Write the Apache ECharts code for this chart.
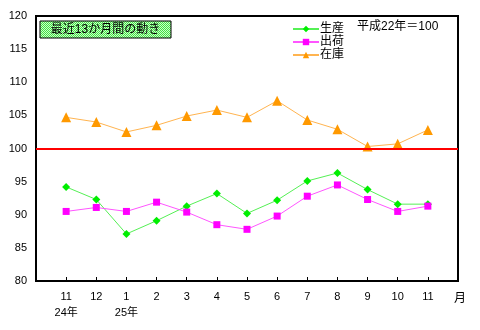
<!DOCTYPE html>
<html>
<head>
<meta charset="utf-8">
<script src="https://cdn.jsdelivr.net/npm/echarts@6/dist/echarts.min.js"></script>
<style>
  html, body { margin: 0; padding: 0; background: #fff; }
  #chart { width: 480px; height: 330px; }
</style>
</head>
<body>
<div id="chart"></div>
<script>
// Month labels (second line marks the year)
const months = ['11\n24年', '12', '1\n25年', '2', '3', '4', '5', '6', '7', '8', '9', '10', '11'];
// Indices, 平成22年 = 100
const production = [94.2, 92.3, 87.1, 89.1, 91.3, 93.2, 90.2, 92.2, 95.1, 96.3, 93.8, 91.6, 91.6];
const shipments  = [90.5, 91.1, 90.5, 91.9, 90.4, 88.5, 87.8, 89.8, 92.8, 94.5, 92.3, 90.5, 91.3];
const inventory  = [104.7, 104.0, 102.5, 103.5, 104.9, 105.8, 104.7, 107.2, 104.3, 102.9, 100.3, 100.7, 102.8];
const yTicks = { min: 80, max: 120, step: 5 };
const baseLine = 100;

const FONT = '"Liberation Sans", "Noto Sans CJK JP", sans-serif';

// pad one empty slot at each end so points sit one step in from the frame
const cats = [''].concat(months, ['']);
const pad = arr => [null].concat(arr, [null]);

// dithered green fill for the caption box
const tile = document.createElement('canvas');
tile.width = 2; tile.height = 2;
const tctx = tile.getContext('2d');
tctx.fillStyle = '#c8ffc8'; tctx.fillRect(0, 0, 2, 2);
tctx.fillStyle = '#44e044'; tctx.fillRect(0, 0, 1, 1); tctx.fillRect(1, 1, 1, 1);

const chart = echarts.init(document.getElementById('chart'), null, { renderer: 'canvas' });

chart.setOption({
  animation: false,
  backgroundColor: '#fff',
  textStyle: { fontFamily: FONT },
  grid: { left: 36, right: 22, top: 16, bottom: 49, show: true, borderColor: '#000', borderWidth: 2, backgroundColor: 'transparent' },
  legend: {
    orient: 'vertical',
    left: 292,
    top: 23,
    padding: 0,
    itemWidth: 26,
    itemHeight: 8,
    itemGap: 1,
    textStyle: { fontFamily: FONT, fontSize: 12, color: '#000', padding: [0, 0, 0, -4] },
    data: ['生産', '出荷', '在庫']
  },
  xAxis: {
    type: 'category',
    data: cats,
    boundaryGap: false,
    axisLine: { lineStyle: { color: '#000', width: 2 } },
    axisTick: { inside: true, length: 4, lineStyle: { color: '#000', width: 1 } },
    axisLabel: { color: '#000', fontSize: 11, fontFamily: FONT, margin: 8, lineHeight: 16, interval: 0 },
    splitLine: { show: false }
  },
  yAxis: {
    type: 'value',
    min: yTicks.min,
    max: yTicks.max,
    interval: yTicks.step,
    axisLine: { show: true, lineStyle: { color: '#000', width: 2 } },
    axisTick: { show: false },
    axisLabel: { color: '#000', fontSize: 11, fontFamily: FONT, margin: 9 },
    splitLine: { show: false }
  },
  graphic: [
    {
      type: 'rect',
      shape: { x: 40, y: 21, width: 131, height: 17 },
      style: { fill: { image: tile, repeat: 'repeat' }, stroke: '#000', lineWidth: 1 },
      z: 10
    },
    {
      type: 'text',
      x: 105.5, y: 30,
      style: { text: '最近13か月間の動き', fontFamily: FONT, fontSize: 12, fill: '#000', align: 'center', verticalAlign: 'middle' },
      z: 11
    },
    {
      type: 'text',
      x: 357, y: 27,
      style: { text: '平成22年＝100', fontFamily: FONT, fontSize: 12, fill: '#000', align: 'left', verticalAlign: 'middle' },
      z: 11
    },
    {
      type: 'text',
      x: 460, y: 299,
      style: { text: '月', fontFamily: FONT, fontSize: 12, fill: '#000', align: 'center', verticalAlign: 'middle' },
      z: 11
    }
  ],
  series: [
    {
      name: '生産',
      type: 'line',
      data: pad(production),
      symbol: 'diamond',
      symbolSize: 8,
      lineStyle: { color: '#55f055', width: 1 },
      itemStyle: { color: '#00ee00' },
      markLine: {
        silent: true,
        symbol: 'none',
        label: { show: false },
        lineStyle: { color: '#ff0000', width: 2, type: 'solid' },
        data: [{ yAxis: baseLine }]
      }
    },
    {
      name: '出荷',
      type: 'line',
      data: pad(shipments),
      symbol: 'rect',
      symbolSize: 7,
      lineStyle: { color: '#ff55ff', width: 1 },
      itemStyle: { color: '#ff00ff' }
    },
    {
      name: '在庫',
      type: 'line',
      data: pad(inventory),
      symbol: 'triangle',
      symbolSize: 10,
      lineStyle: { color: '#ffb450', width: 1 },
      itemStyle: { color: '#ff9900' }
    }
  ]
});
</script>
</body>
</html>
